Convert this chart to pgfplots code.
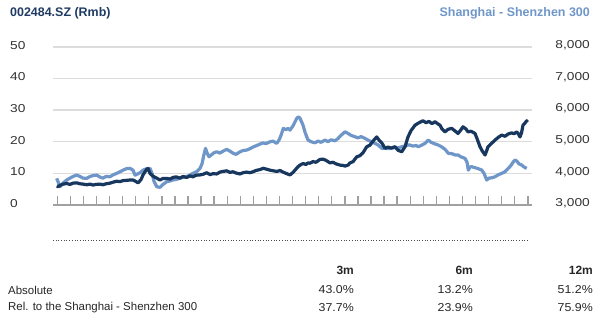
\documentclass[border=0pt]{standalone}
\usepackage{pgfplots}
\pgfplotsset{compat=1.18}
\usepackage{pgfplotstable}
\usepackage{fontspec}
\setmainfont{Liberation Sans}
\definecolor{navy}{HTML}{17375E}
\definecolor{lightb}{HTML}{6E96C8}
\definecolor{titleblue}{HTML}{1F3B64}
\definecolor{gridc}{HTML}{DCDCDC}
\definecolor{tickc}{HTML}{A0A0A0}
\definecolor{txt}{HTML}{333333}

% x in picture pixels, stock price (Rmb)
\pgfplotstableread{
px v
56.7 6.0
58.3 5.8
60 6.2
63.3 6.6
66.7 6.8
70 6.5
73 6.9
76.7 7.0
80 6.7
83 6.6
87 6.4
90 6.6
93 6.3
96 6.5
100 6.6
103 6.4
106 6.7
110 6.9
113 7.2
116.7 7.5
120 7.4
123 7.7
127 7.8
130 7.9
133 7.9
136 7.4
138 7.0
141 8.0
143 9.5
146.7 11.3
148 11.5
150 10.0
153 9.1
156 8.6
160 7.9
163 8.4
166.7 8.4
170 8.2
173 8.7
176 8.9
180 8.5
183 9.0
186.7 8.7
190 9.2
193 8.9
196 9.4
200 9.5
203 9.7
206.7 10.2
210 9.6
213 9.9
216.7 9.8
220 10.4
223 10.6
226.7 10.8
230 10.3
233 10.5
236 10.1
240 9.8
243 10.2
246.7 10.4
250 10.2
253 10.5
256 10.9
260 11.2
263.3 11.6
266.7 11.3
270 11.0
273.3 10.8
277 10.6
280 10.9
283 10.4
286.7 9.9
290 9.5
293 10.3
295 11.0
298 12.1
300 12.6
303 13.1
306 12.8
308 13.3
310 13.2
313 13.7
316 13.5
320 14.4
323 14.5
326 14.1
330 13.3
333 13.5
336 13.0
340 12.6
343 12.5
345 12.3
348 12.6
350 13.3
353 13.7
356.7 15.2
360 15.6
363 16.5
366.7 18.4
370 18.9
373 20.2
376.7 21.5
379 20.5
382 19.5
385 17.9
388 18.3
391 18.0
395 18.4
398 17.3
401.7 16.8
405 18.4
408 21.5
411 23.5
415 25.2
418 25.8
421 26.3
423 26.6
426 26.0
429 26.4
432 25.7
435 26.3
437 25.8
440 25.2
442 24.0
445 23.1
448 23.9
451.7 24.2
455 23.4
458 22.6
461 23.8
463 24.7
466 24.0
468 23.1
471 23.3
475 22.6
477 21.0
480 18.4
482 17.2
485 15.8
486.5 17.0
488 18.4
491 19.3
495 20.5
498 21.3
501.7 22.1
505 21.7
508 22.4
511.7 22.8
514 22.5
516.7 23.1
518.5 22.4
520 21.5
521.5 22.8
523 25.2
525 25.9
526.7 26.6
527.5 26.2
}\stock

% Shanghai - Shenzhen 300 index
\pgfplotstableread{
px v
56.7 3842
58.5 3700
60 3580
63.3 3700
66.7 3789
70 3850
73 3900
76.7 3946
80 3900
83 3850
86.7 3842
90 3900
93 3930
96.7 3946
100 3880
103 3850
106 3900
110 3893
113 3950
116.7 4000
120 4050
123 4100
126.7 4150
130 4158
133 4100
135 3946
137.5 3980
140 4020
143 4100
146 4140
150 4158
152 4000
154 3750
156.7 3577
160 3558
163 3650
166.7 3735
170 3760
173 3790
176.7 3811
180 3850
183 3870
186.7 3893
190 3950
193 4000
196.7 4050
200 4158
202 4300
204 4600
205.5 4789
207 4650
209 4524
212 4600
214 4650
216.7 4681
220 4640
223 4700
226.7 4757
230 4700
233.3 4631
236 4600
240 4680
243 4720
246.7 4735
250 4780
253 4830
256 4870
260 4924
263 4960
266 4940
270 4997
273 5020
276.7 4946
279 5050
281 5200
283.3 5420
286 5380
288 5420
290 5366
293 5500
296.7 5735
298.5 5786
300 5740
303 5524
305 5300
308 5050
311 5000
315 4965
318 5020
321 4980
325 5050
328 5000
331 5060
335 5028
338 5100
341 5200
345 5312
348 5260
351 5200
355 5155
358 5120
361 5160
365 5104
368 5050
371 5000
375 4946
378 4900
381.7 4789
385 4800
388 4780
391.7 4789
395 4820
398 4800
401.7 4841
405 4860
408 4900
410 4893
413 4860
416 4880
418.3 4841
421 4880
425 4946
428.3 5050
431 4980
435 4930
438.3 4893
441 4850
445 4760
448.3 4631
452 4620
455 4580
458.3 4577
461 4520
465 4473
467 4350
468.3 4104
470 4200
471.7 4208
475 4180
478 4150
481.7 4104
484 4000
486.7 3789
489 3850
492 3860
495 3893
498 3950
501.7 4000
505 4050
508 4150
511 4250
513 4350
515 4420
517 4380
519 4300
521.7 4262
524 4200
526.7 4158
}\index

\begin{document}
\begin{tikzpicture}[x=1bp,y=1bp]
\path[use as bounding box] (0,0) rectangle (595,322);
\pgfplotsset{every axis/.append style={at={(53bp,117bp)}, anchor=south west,
  width=478.7bp, height=158.3bp, scale only axis, xmin=53, xmax=531.7}}
% grid + ticks
\begin{axis}[ymin=0, ymax=50,
  axis x line*=bottom, axis y line*=left,
  x axis line style={-, draw=tickc, line width=2.2bp},
  y axis line style={draw=none},
  ytick={0,10,...,50}, yticklabels={}, ytick style={draw=none},
  ymajorgrids, grid style={gridc, line width=1.6bp},
  xtick={57.3,70.37,...,528}, xticklabels={},
  xtick style={draw=tickc, line width=1.4bp},
  major tick length=9bp, tick align=inside]
\end{axis}
% index (right axis)
\begin{axis}[ymin=3000, ymax=8000, hide axis]
\addplot[lightb, line width=3.2bp, line join=round] table[x=px,y=v] {\index};
\end{axis}
% stock (left axis)
\begin{axis}[ymin=0, ymax=50, hide axis]
\addplot[navy, line width=3.2bp, line join=round] table[x=px,y=v] {\stock};
\end{axis}
% tick labels
\foreach \v/\r in {0/3{,}000,10/4{,}000,20/5{,}000,30/6{,}000,40/7{,}000,50/8{,}000}{
  \node[anchor=west, inner sep=0, text=txt, font=\fontsize{11.5}{13}\selectfont] at (10,{117+\v*3.166+1.5}) {\scalebox{1.2}[1]{\v}};
  \node[anchor=east, inner sep=0, text=txt, font=\fontsize{11.5}{13}\selectfont] at (590,{117+\v*3.166+1.5}) {\scalebox{1.2}[1]{\r}};
}
% titles
\node[anchor=west, inner sep=0, text=titleblue, font=\bfseries\fontsize{12.5}{14}\selectfont] at (10,309) {002484.SZ (Rmb)};
\node[anchor=east, inner sep=0, text=lightb, font=\bfseries\fontsize{12.5}{14}\selectfont] at (590,309) {Shanghai - Shenzhen 300};
% dotted separator
\draw[dotted, draw=black!70, line width=0.7bp] (53,82) -- (528,82);
% table
\begin{scope}[every node/.style={inner sep=0, text=black!85, font=\fontsize{11.5}{13}\selectfont}]
\node[anchor=east, font=\bfseries\fontsize{12}{13}\selectfont] at (354,52) {3m};
\node[anchor=east, font=\bfseries\fontsize{12}{13}\selectfont] at (473,52) {6m};
\node[anchor=east, font=\bfseries\fontsize{12}{13}\selectfont] at (593,52) {12m};
\node[anchor=west] at (8,32) {Absolute};
\node[anchor=east] at (354,32) {\scalebox{1.08}[1]{43.0\%}};
\node[anchor=east] at (473,32) {\scalebox{1.08}[1]{13.2\%}};
\node[anchor=east] at (593,32) {\scalebox{1.08}[1]{51.2\%}};
\node[anchor=west] at (8,14) {Rel. to the Shanghai - Shenzhen 300};
\node[anchor=east] at (354,14) {\scalebox{1.08}[1]{37.7\%}};
\node[anchor=east] at (473,14) {\scalebox{1.08}[1]{23.9\%}};
\node[anchor=east] at (593,14) {\scalebox{1.08}[1]{75.9\%}};
\end{scope}
\end{tikzpicture}
\end{document}
